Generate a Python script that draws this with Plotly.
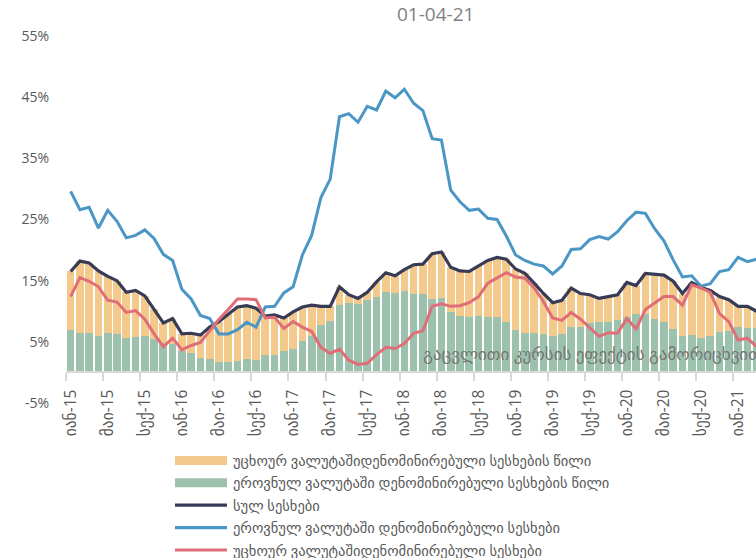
import plotly.graph_objects as go

# Monthly periods, Jan-2015 .. Mar-2021
month_names = ["იან", "თებ", "მარ", "აპრ", "მაი", "ივნ", "ივლ", "აგვ", "სექ", "ოქტ", "ნოე", "დეკ"]
periods = [f"{m}-{y}" for y in range(15, 22) for m in month_names][:75]

tick_labels = ["იან-15", "მაი-15", "სექ-15", "იან-16", "მაი-16", "სექ-16", "იან-17",
               "მაი-17", "სექ-17", "იან-18", "მაი-18", "სექ-18", "იან-19", "მაი-19",
               "სექ-19", "იან-20", "მაი-20", "სექ-20", "იან-21"]

# Contribution of national-currency loans (green bars), %
gel_share = [7.0, 6.4, 6.5, 5.9, 6.5, 6.2, 5.7, 5.8, 6.0, 5.5,
             4.8, 4.7, 3.5, 3.1, 2.4, 2.2, 1.7, 1.7, 1.9, 2.2,
             2.1, 2.9, 2.9, 3.5, 3.8, 5.2, 6.0, 7.7, 8.4, 11.0,
             11.3, 11.2, 11.9, 12.3, 13.1, 13.0, 13.3, 12.8, 12.8, 12.0,
             12.1, 9.9, 9.3, 9.0, 9.3, 9.0, 9.0, 8.2, 7.0, 6.5,
             6.4, 6.3, 5.9, 6.3, 7.5, 7.5, 8.0, 8.3, 8.3, 8.6,
             9.1, 9.6, 9.6, 8.7, 8.2, 7.1, 6.0, 6.1, 5.7, 5.9,
             6.6, 6.7, 7.5, 7.2, 7.3]

# Contribution of foreign-currency loans (orange bars), %
fx_share = [9.5, 11.8, 11.4, 10.7, 9.2, 8.8, 7.4, 7.6, 6.5, 4.8,
            3.3, 4.1, 2.8, 3.3, 3.7, 5.2, 6.6, 7.8, 8.8, 8.7,
            8.4, 6.3, 6.5, 5.4, 6.1, 5.5, 5.0, 3.1, 2.4, 3.0,
            1.4, 0.9, 1.2, 2.5, 3.2, 2.8, 3.5, 4.8, 4.9, 7.4,
            7.6, 7.3, 7.3, 7.5, 8.1, 9.3, 9.8, 10.3, 9.9, 9.7,
            8.2, 6.6, 5.5, 5.5, 6.3, 5.4, 4.7, 3.8, 4.1, 4.1,
            5.6, 4.6, 6.6, 7.4, 7.7, 7.8, 6.9, 8.6, 8.2, 7.5,
            5.8, 5.2, 3.3, 3.6, 2.7]

# Annual growth, %
total_loans = [16.5, 18.2, 17.9, 16.6, 15.7, 15.0, 13.1, 13.4, 12.5, 10.3,
               8.1, 8.8, 6.3, 6.4, 6.1, 7.4, 8.3, 9.5, 10.7, 10.9,
               10.5, 9.2, 9.4, 8.9, 9.9, 10.7, 11.0, 10.8, 10.8, 14.0,
               12.7, 12.1, 13.1, 14.8, 16.3, 15.8, 16.8, 17.6, 17.7, 19.4,
               19.7, 17.2, 16.6, 16.5, 17.4, 18.3, 18.8, 18.5, 16.9, 16.2,
               14.6, 12.9, 11.4, 11.8, 13.8, 12.9, 12.7, 12.1, 12.4, 12.7,
               14.7, 14.2, 16.2, 16.1, 15.9, 14.9, 12.9, 14.7, 13.9, 13.4,
               12.4, 11.9, 10.8, 10.8, 10.0]

gel_loans = [29.6, 26.6, 27.0, 23.6, 26.5, 24.7, 22.0, 22.4, 23.3, 21.9,
             19.3, 18.3, 13.6, 12.0, 9.3, 8.8, 6.3, 6.3, 7.0, 8.2,
             7.4, 10.7, 10.8, 13.0, 14.0, 19.2, 22.4, 28.6, 31.6, 41.8,
             42.3, 40.9, 43.5, 42.9, 46.0, 44.9, 46.3, 44.0, 42.8, 38.2,
             38.0, 29.8, 27.9, 26.5, 26.7, 25.2, 25.0, 22.3, 19.2, 18.3,
             17.7, 17.4, 16.1, 17.4, 20.1, 20.2, 21.7, 22.2, 21.8, 23.0,
             24.8, 26.2, 26.0, 23.5, 21.5, 18.4, 15.6, 15.8, 14.1, 14.5,
             16.5, 16.8, 18.8, 18.1, 18.5]

fx_loans = [12.4, 15.5, 14.9, 14.0, 11.8, 11.5, 9.8, 10.1, 8.7, 6.3,
            4.2, 5.6, 3.7, 4.4, 4.9, 6.9, 8.7, 10.3, 12.0, 12.0,
            11.9, 8.9, 9.0, 7.2, 8.3, 7.4, 6.7, 4.1, 3.1, 3.8,
            2.0, 1.3, 1.5, 2.9, 4.1, 3.9, 4.7, 6.4, 6.8, 10.8,
            11.2, 10.8, 10.9, 11.4, 12.4, 14.6, 15.4, 16.3, 15.6, 15.4,
            13.8, 11.6, 8.9, 8.5, 9.8, 8.7, 7.3, 5.9, 6.5, 6.4,
            8.8, 7.1, 10.3, 11.4, 12.4, 12.4, 11.0, 14.3, 13.8, 13.1,
            9.6, 8.3, 5.3, 5.6, 4.2]

y_ticks = [-5, 5, 15, 25, 35, 45, 55]
y_tick_text = ["-5%", "5%", "15%", "25%", "35%", "45%", "55%"]

series_names = [
    "უცხოურ ვალუტაშიდენომინირებული სესხების წილი",
    "ეროვნულ ვალუტაში დენომინირებული სესხების წილი",
    "სულ სესხები",
    "ეროვნულ ვალუტაში დენომინირებული სესხები",
    "უცხოურ ვალუტაშიდენომინირებული სესხები",
]
note_text = "გაცვლითი კურსის ეფექტის გამორიცხვით"
title_text = "01-04-21"

ORANGE = "#F3CA8C"
GREEN = "#9CC2AD"
DARK = "#383B56"
BLUE = "#4A96C5"
RED = "#E06E78"
AXIS = "#D9D9D9"
TEXT = "#595959"
FONT = "Open Sans, DejaVu Sans, sans-serif"

idx = list(range(len(periods)))
label_pos = idx[::4]
boundary_pos = [i - 0.5 for i in label_pos]

# figure geometry (pixels)
W, H = 756, 558
ML, MR, MT, MB = 66, 0, 36, 155
PW, PH = W - ML - MR, H - MT - MB
X_END = -0.5 + PW / 9.27


def px(x):
    return (x - ML) / PW


def py(y):
    return (H - MB - y) / PH


fig = go.Figure()
fig.add_bar(x=idx, y=gel_share, marker=dict(color=GREEN, line=dict(width=0)),
            name=series_names[1], customdata=periods)
fig.add_bar(x=idx, y=fx_share, marker=dict(color=ORANGE, line=dict(width=0)),
            name=series_names[0], customdata=periods)
fig.add_scatter(x=idx, y=total_loans, mode="lines", name=series_names[2],
                line=dict(color=DARK, width=3.2))
fig.add_scatter(x=idx, y=gel_loans, mode="lines", name=series_names[3],
                line=dict(color=BLUE, width=3))
fig.add_scatter(x=idx, y=fx_loans, mode="lines", name=series_names[4],
                line=dict(color=RED, width=3))
# carrier for the tick-mark axis
fig.add_scatter(x=[None], y=[None], xaxis="x2", yaxis="y", showlegend=False,
                hoverinfo="skip")

zero_pos = (0 - y_ticks[0]) / (y_ticks[-1] - y_ticks[0])

fig.update_layout(
    width=W, height=H,
    margin=dict(l=ML, r=MR, t=MT, b=MB, pad=0),
    paper_bgcolor="white", plot_bgcolor="white",
    barmode="stack", bargap=0.17,
    showlegend=False,
    font=dict(family=FONT, color=TEXT),
    xaxis=dict(range=[-0.5, X_END], anchor="free", position=zero_pos,
               tickmode="array", tickvals=label_pos, ticktext=tick_labels,
               tickangle=-90, ticks="outside", ticklen=10,
               tickcolor="rgba(0,0,0,0)", showline=False, showgrid=False,
               zeroline=False, tickfont=dict(size=15.5, color=TEXT, family=FONT)),
    xaxis2=dict(range=[-0.5, X_END], overlaying="x", anchor="free",
                position=zero_pos, tickmode="array", tickvals=boundary_pos,
                ticks="outside", ticklen=8, tickwidth=1.5, tickcolor=AXIS,
                showline=True, linecolor=AXIS, linewidth=1.5,
                showticklabels=False, showgrid=False, zeroline=False),
    yaxis=dict(range=[y_ticks[0], y_ticks[-1]], tickmode="array",
               tickvals=y_ticks, ticktext=y_tick_text, showgrid=False,
               zeroline=False, showline=False, ticks="outside", ticklen=13,
               tickcolor="rgba(0,0,0,0)",
               tickfont=dict(size=14, color=TEXT, family=FONT)),
)

# title
fig.add_annotation(text=title_text, xref="paper", yref="paper",
                   x=px(435), y=py(14), xanchor="center", yanchor="middle",
                   showarrow=False, font=dict(size=19, color="#7F7F7F", family=FONT))

# note inside the plot
fig.add_annotation(text=note_text, xref="paper", yref="paper",
                   x=px(421), y=py(353), xanchor="left", yanchor="middle",
                   showarrow=False, font=dict(size=17, color="#767676", family=FONT))

# legend
legend_rows = [460.5, 482.8, 505.2, 527.6, 550.0]
legend_style = [("bar", ORANGE), ("bar", GREEN), ("line", DARK), ("line", BLUE), ("line", RED)]
for name, (kind, color), row in zip(series_names, legend_style, legend_rows):
    if kind == "bar":
        fig.add_shape(type="rect", xref="paper", yref="paper",
                      x0=px(175), x1=px(227), y0=py(row + 4.5), y1=py(row - 4.5),
                      fillcolor=color, line=dict(width=0))
    else:
        fig.add_shape(type="line", xref="paper", yref="paper",
                      x0=px(175), x1=px(227), y0=py(row), y1=py(row),
                      line=dict(color=color, width=3.2))
    fig.add_annotation(text=name, xref="paper", yref="paper",
                       x=px(231), y=py(row), xanchor="left", yanchor="middle",
                       showarrow=False, font=dict(size=14.5, color=TEXT, family=FONT))

fig.write_html("out.html")
